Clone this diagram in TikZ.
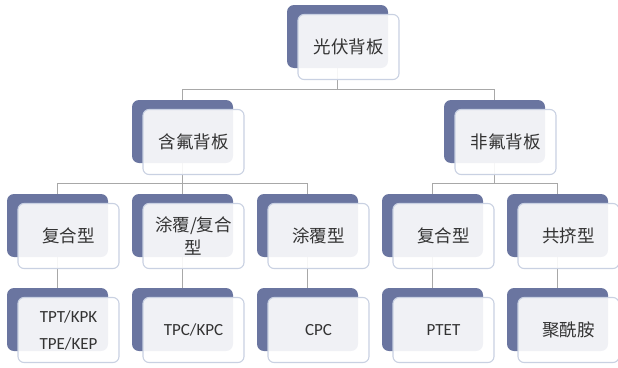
\documentclass[tikz,border=0pt]{standalone}
\usepackage{fontspec}
\newfontfamily\cjk{Noto Sans CJK SC}
\newfontfamily\lat{Carlito}
\usetikzlibrary{backgrounds}
\definecolor{darkbox}{HTML}{6A75A0}
\definecolor{frontline}{HTML}{C9D1E2}
\definecolor{conncol}{HTML}{A8A8A8}
\definecolor{txt}{HTML}{333333}
\tikzset{
  backbox/.style={draw=none, fill=darkbox, rounded corners=7pt, minimum width=101pt, minimum height=63pt, inner sep=0pt},
  frontbox/.style={draw=frontline, line width=1.1pt, fill=white, fill opacity=0.9, text opacity=1, rounded corners=6pt, minimum width=101pt, minimum height=65pt, inner sep=0pt, align=center, text=txt},
  cjktext/.style={font=\cjk\fontsize{17.5}{23}\selectfont},
  lattext/.style={font=\lat\fontsize{17}{27}\selectfont},
  conn/.style={draw=conncol, line width=1pt}
}
\newcommand\pairbox[5]{%
  \node[backbox] (#1) at (#2,#3) {};
  \node[frontbox,#4] (#1f) at ([shift={(11pt,-10.5pt)}]#1.center) {#5};
}
\begin{document}
\begin{tikzpicture}[x=1pt,y=-1pt]
\useasboundingbox (0,0) rectangle (618,367);
% level 0
\pairbox{top}{337.5}{36.5}{cjktext}{光伏背板}
% level 1
\pairbox{fa}{182.5}{131.5}{cjktext}{含氟背板}
\pairbox{fb}{494.5}{131.5}{cjktext}{非氟背板}
% level 2
\pairbox{ca}{57.5}{225.5}{cjktext}{复合型}
\pairbox{cb}{182.5}{225.5}{cjktext}{涂覆/复合\\型}
\pairbox{cc}{307.5}{225.5}{cjktext}{涂覆型}
\pairbox{cd}{432.5}{225.5}{cjktext}{复合型}
\pairbox{ce}{557.5}{225.5}{cjktext}{共挤型}
% level 3
\pairbox{da}{57.5}{319.5}{lattext}{TPT/KPK\\TPE/KEP}
\pairbox{db}{182.5}{319.5}{lattext}{TPC/KPC}
\pairbox{dc}{307.5}{319.5}{lattext}{CPC}
\pairbox{dd}{432.5}{319.5}{lattext}{PTET}
\pairbox{de}{557.5}{319.5}{cjktext}{聚酰胺}
\begin{pgfonlayer}{background}
  \draw[conn] (top.south) -- ++(0,21) -| (fa.north);
  \draw[conn] (top.south) -- ++(0,21) -| (fb.north);
  \draw[conn] (fa.south) -- ++(0,20) -| (ca.north);
  \draw[conn] (fa.south) -- ++(0,20) -| (cb.north);
  \draw[conn] (fa.south) -- ++(0,20) -| (cc.north);
  \draw[conn] (fb.south) -- ++(0,20) -| (cd.north);
  \draw[conn] (fb.south) -- ++(0,20) -| (ce.north);
  \draw[conn] (ca.south) -- (da.north);
  \draw[conn] (cb.south) -- (db.north);
  \draw[conn] (cc.south) -- (dc.north);
  \draw[conn] (cd.south) -- (dd.north);
  \draw[conn] (ce.south) -- (de.north);
\end{pgfonlayer}
\end{tikzpicture}
\end{document}
